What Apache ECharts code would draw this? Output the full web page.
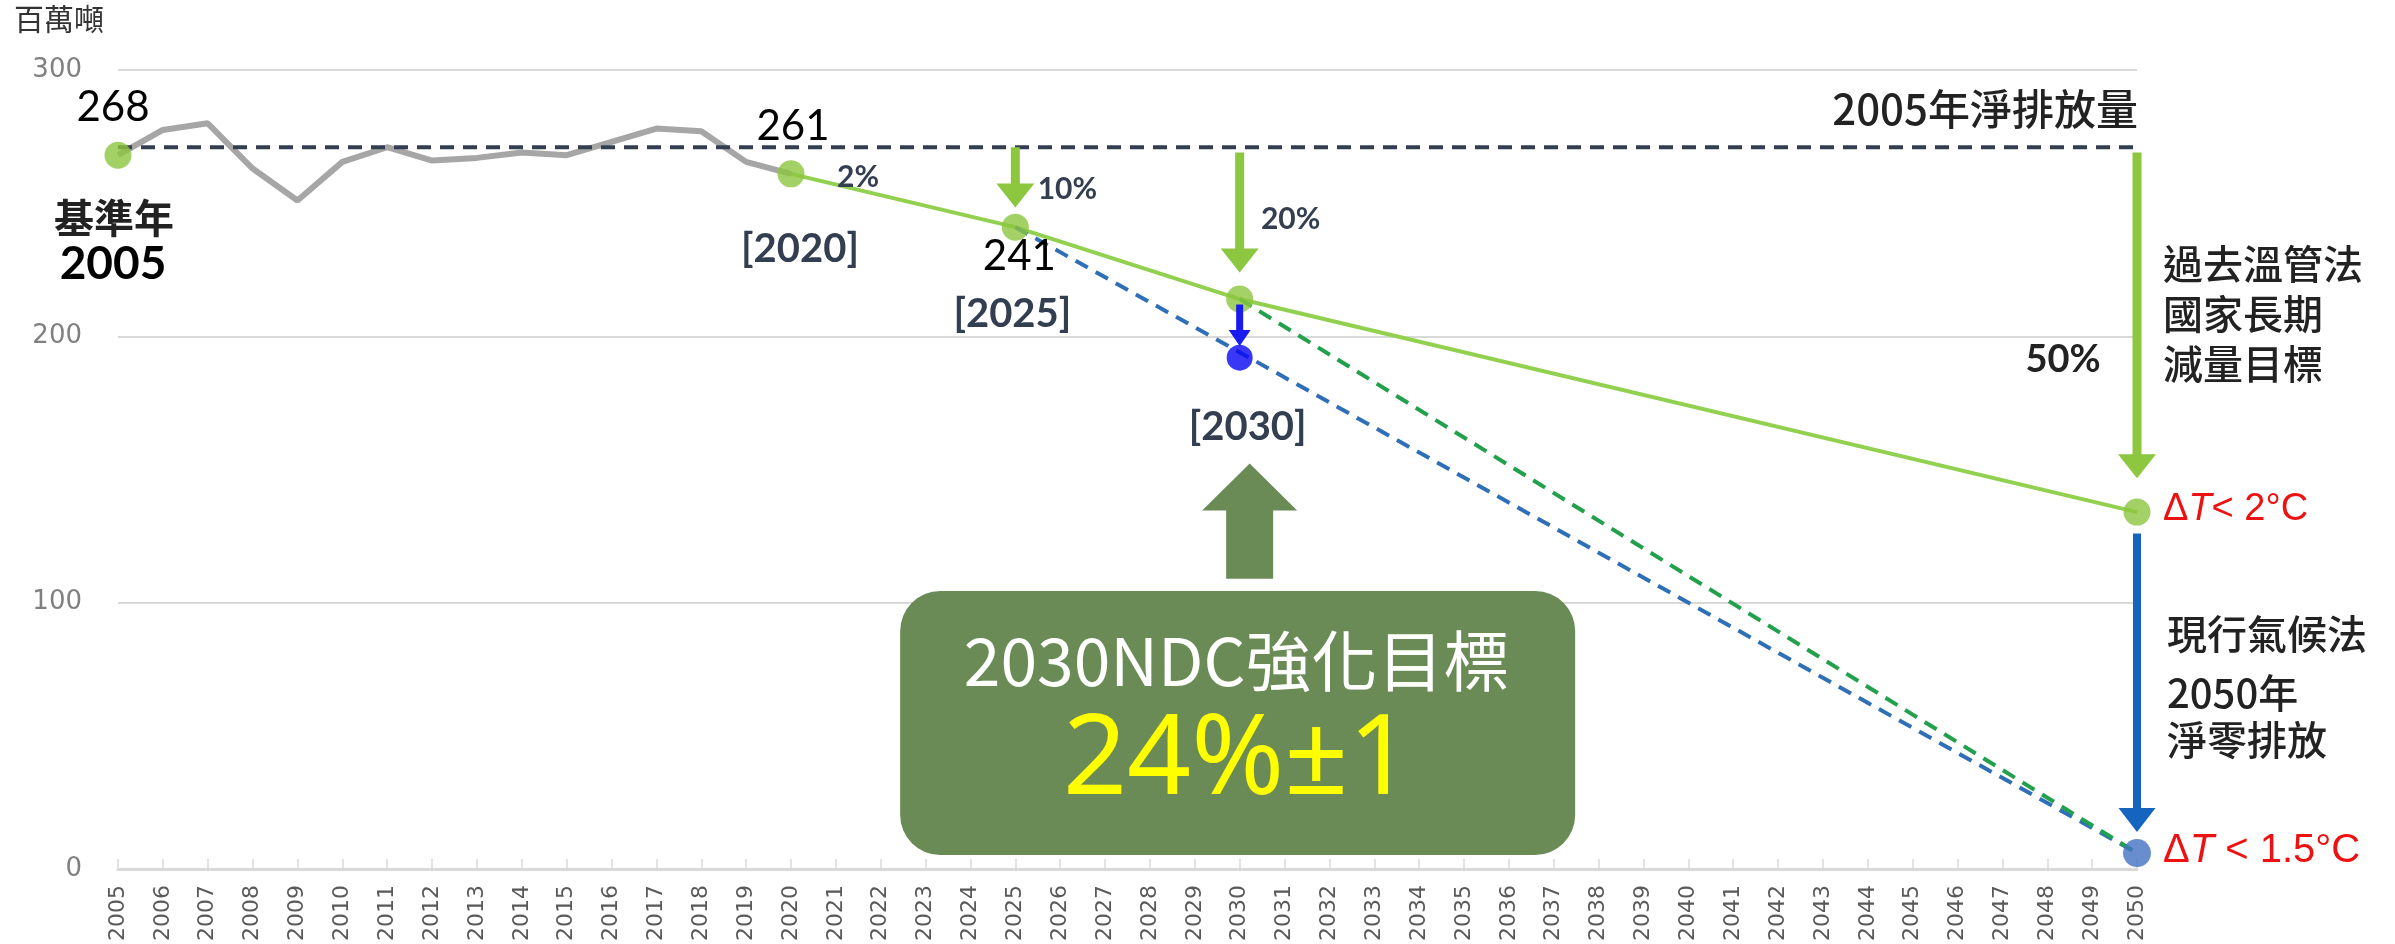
<!DOCTYPE html>
<html>
<head>
<meta charset="utf-8">
<script src="https://cdn.jsdelivr.net/npm/echarts@6.0.0/dist/echarts.min.js"></script>
<style>
  html, body { margin: 0; padding: 0; background: #fff; }
  #main { width: 2395px; height: 944px; }
</style>
</head>
<body>
<div id="main"></div>
<script>
// 年份（x 軸）
const years = ['2005', '2006', '2007', '2008', '2009', '2010', '2011', '2012', '2013', '2014', '2015',
  '2016', '2017', '2018', '2019', '2020', '2021', '2022', '2023', '2024', '2025', '2026', '2027',
  '2028', '2029', '2030', '2031', '2032', '2033', '2034', '2035', '2036', '2037', '2038', '2039',
  '2040', '2041', '2042', '2043', '2044', '2045', '2046', '2047', '2048', '2049', '2050']
const yTicks = [0, 100, 200, 300]

// 歷年淨排放量（灰線）
const histYears = ['2005', '2006', '2007', '2008', '2009', '2010', '2011', '2012', '2013', '2014',
  '2015', '2016', '2017', '2018', '2019', '2020']
const histValues = [268, 277.5, 280, 263, 251, 265.5, 271, 266, 267, 269, 268, 273, 278, 277, 265.5, 261]

// 2005 年淨排放量 虛線
const baseLine = [['2005', 271], ['2050', 271]]
// 過去溫管法 路徑（綠實線）
const targetPath = [['2020', 261], ['2025', 241], ['2030', 214], ['2050', 134]]
// 淨零 路徑（藍虛線、綠虛線）
const netZeroPath = [['2025', 241], ['2050', 6]]
const enhancedPath = [['2030', 214], ['2050', 6]]
// 點
const greenPoints = [['2005', 268], ['2020', 261], ['2025', 241], ['2030', 214], ['2050', 134]]
const ndcPoint = [['2030', 192]]
const netZeroPoint = [['2050', 6]]
// 箭頭 [年, 起, 迄]
const cutArrows = [['2025', 271, 248.4], ['2030', 269, 224], ['2050', 269, 146.7]]
const ndcArrow = [['2030', 212, 196.4]]
const netZeroArrow = [['2050', 126, 13.9]]
const boxArrow = [['2030', 109, 152.3]]

const numFont = 'Lato, "Noto Sans", sans-serif'
const cjkFont = '"Noto Sans CJK TC", "Noto Sans CJK SC", sans-serif'
const latFont = '"Liberation Sans", Arial, sans-serif'
const slate = '#333f50'
const red = '#ee1111'

// 箭頭（custom series）
function arrowSeries (name, data, color, shaft, headW, headL, dx) {
  return {
    name: name,
    type: 'custom',
    silent: true,
    z: 6,
    renderItem: function (params, api) {
      const p0 = api.coord([api.value(0), api.value(1)])
      const p1 = api.coord([api.value(0), api.value(2)])
      const x = p0[0] + dx
      const dir = p1[1] > p0[1] ? 1 : -1
      const yh = p1[1] - dir * headL
      return {
        type: 'polygon',
        shape: {
          points: [
            [x - shaft / 2, p0[1]], [x + shaft / 2, p0[1]], [x + shaft / 2, yh],
            [x + headW / 2, yh], [x, p1[1]], [x - headW / 2, yh], [x - shaft / 2, yh]
          ]
        },
        style: { fill: color }
      }
    },
    data: data
  }
}

const chart = echarts.init(document.getElementById('main'))
chart.setOption({
  animation: false,
  grid: { left: 118, right: 258, top: 70, bottom: 72 },
  xAxis: {
    type: 'category',
    data: years,
    boundaryGap: false,
    axisLine: { lineStyle: { color: '#d9d9d9', width: 3 } },
    axisTick: { show: true, inside: true, length: 10, interval: 0, lineStyle: { color: '#d9d9d9', width: 1.5 } },
    axisLabel: { interval: 0, rotate: 90, margin: 16, fontSize: 22, color: '#595959', fontFamily: '"DejaVu Sans", sans-serif' },
    splitLine: { show: false }
  },
  yAxis: {
    type: 'value',
    min: yTicks[0],
    max: yTicks[yTicks.length - 1],
    interval: 100,
    axisLine: { show: false },
    axisTick: { show: false },
    axisLabel: { margin: 36, fontSize: 26, color: '#808080', fontFamily: '"DejaVu Sans", sans-serif' },
    splitLine: { lineStyle: { color: '#d9d9d9', width: 2 } }
  },
  series: [
    {
      name: '歷年',
      type: 'line',
      data: histYears.map((y, i) => [y, histValues[i]]),
      showSymbol: false,
      lineStyle: { color: '#a6a6a6', width: 6 },
      z: 2
    },
    {
      name: '2005年淨排放量',
      type: 'line',
      data: baseLine,
      showSymbol: false,
      lineStyle: { color: slate, width: 4, type: [14, 9] },
      z: 3
    },
    {
      name: '過去溫管法',
      type: 'line',
      data: targetPath,
      showSymbol: false,
      lineStyle: { color: '#92d050', width: 4 },
      z: 3
    },
    {
      name: '淨零',
      type: 'line',
      data: netZeroPath,
      showSymbol: false,
      lineStyle: { color: '#2e6fb8', width: 4, type: [14, 9] },
      z: 3
    },
    {
      name: '強化',
      type: 'line',
      data: enhancedPath,
      showSymbol: false,
      lineStyle: { color: '#22a04b', width: 4, type: [14, 9] },
      z: 3
    },
    arrowSeries('減量', cutArrows, '#8dc63f', 9, 38, 24, 0),
    arrowSeries('NDC', ndcArrow, '#1a1aee', 7, 22, 16, 0),
    arrowSeries('淨零箭頭', netZeroArrow, '#1565c0', 8, 37, 24, 0),
    arrowSeries('強化箭頭', boxArrow, '#6a8b55', 47, 95, 47, 10),
    {
      name: '綠點',
      type: 'scatter',
      data: greenPoints,
      symbolSize: 27,
      itemStyle: { color: '#8dc63f' },
      z: 5
    },
    {
      name: 'NDC點',
      type: 'scatter',
      data: ndcPoint,
      symbolSize: 26,
      itemStyle: { color: '#0606f2' },
      z: 7
    },
    {
      name: '淨零點',
      type: 'scatter',
      data: netZeroPoint,
      symbolSize: 28,
      itemStyle: { color: '#4472c4' },
      z: 7
    }
  ]
})

// 註解文字
const notes = [
  { at: ['2005', 268], dx: -5, dy: -48, text: '268', size: 42, color: '#000', weight: 'normal', font: numFont },
  { at: ['2005', 268], dx: -4, dy: 63, text: '基準年', size: 40, color: '#222', weight: 'bold', font: cjkFont },
  { at: ['2005', 268], dx: -5, dy: 109, text: '2005', size: 46, color: '#000', weight: 'bold', font: numFont },
  { at: ['2020', 261], dx: 2, dy: -47, text: '261', size: 42, color: '#000', weight: 'normal', font: numFont },
  { at: ['2020', 261], dx: 67, dy: 3, text: '2%', size: 30, color: slate, weight: 'bold', font: numFont },
  { at: ['2020', 261], dx: 9, dy: 75, text: '[2020]', size: 40, color: slate, weight: 'bold', font: numFont },
  { at: ['2025', 241], dx: 52, dy: -38, text: '10%', size: 30, color: slate, weight: 'bold', font: numFont },
  { at: ['2025', 241], dx: 4, dy: 29, text: '241', size: 42, color: '#000', weight: 'normal', font: numFont },
  { at: ['2025', 241], dx: -3, dy: 87, text: '[2025]', size: 40, color: slate, weight: 'bold', font: numFont },
  { at: ['2030', 214], dx: 51, dy: -80, text: '20%', size: 30, color: slate, weight: 'bold', font: numFont },
  { at: ['2030', 192], dx: 8, dy: 69, text: '[2030]', size: 40, color: slate, weight: 'bold', font: numFont },
  { at: ['2050', 271], dx: 1, dy: -38, text: '2005年淨排放量', size: 42, color: '#222', weight: 500, font: cjkFont, align: 'right' },
  { at: ['2050', 134], dx: -74, dy: -152, text: '50%', size: 38, color: '#222', weight: 'bold', font: numFont },
  { at: ['2050', 134], dx: 26, dy: -198, text: '過去溫管法\n國家長期\n減量目標', size: 40, color: '#222', weight: 500, font: cjkFont, align: 'left', lh: 50 },
  { at: ['2050', 6], dx: 30, dy: -219, text: '現行氣候法', size: 40, color: '#222', weight: 500, font: cjkFont, align: 'left' },
  { at: ['2050', 6], dx: 30, dy: -160, text: '2050年', size: 40, color: '#222', weight: 500, font: cjkFont, align: 'left' },
  { at: ['2050', 6], dx: 30, dy: -113, text: '淨零排放', size: 40, color: '#222', weight: 500, font: cjkFont, align: 'left' },
  { at: ['2030', 0], dx: -3, dy: -208, text: '2030NDC強化目標', size: 66, color: '#fff', weight: 'normal', font: cjkFont, z: 12 },
  { at: ['2030', 0], dx: -2, dy: -107, text: '24%±1', size: 112, color: '#ffff00', weight: 'normal', font: '"Noto Sans", sans-serif', z: 12 }
]

function px (pt) {
  return chart.convertToPixel({ gridIndex: 0 }, [years.indexOf(pt[0]), pt[1]])
}

const graphics = [
  {
    type: 'text', left: 14, top: 4, z: 10,
    style: { text: '百萬噸', fontSize: 30, fill: '#333', fontFamily: cjkFont }
  }
]

const boxBase = px(['2030', 0])
graphics.push({
  type: 'rect', z: 11,
  shape: { x: boxBase[0] - 339.5, y: boxBase[1] - 278, width: 675, height: 264, r: 40 },
  style: { fill: '#6a8b55' }
})

notes.forEach(n => {
  const p = px(n.at)
  graphics.push({
    type: 'text',
    x: p[0] + n.dx,
    y: p[1] + n.dy,
    z: n.z || 10,
    style: {
      text: n.text,
      fill: n.color,
      fontSize: n.size,
      fontWeight: n.weight,
      fontFamily: n.font,
      align: n.align || 'center',
      verticalAlign: 'middle',
      lineHeight: n.lh || n.size * 1.2
    }
  })
})

// ΔT 標示
const dtStyle = (size, italic) => ({ fontSize: size, fill: red, fontFamily: latFont, fontStyle: italic ? 'italic' : 'normal' })
const dt2 = px(['2050', 134])
graphics.push({
  type: 'text', x: dt2[0] + 26, y: dt2[1] - 3, z: 10,
  style: {
    text: '{n|Δ}{i|T}{n|< 2°C}', align: 'left', verticalAlign: 'middle',
    rich: { n: dtStyle(38, false), i: dtStyle(38, true) }
  }
})
const dt15 = px(['2050', 6])
graphics.push({
  type: 'text', x: dt15[0] + 26, y: dt15[1] - 2, z: 10,
  style: {
    text: '{n|Δ}{i|T}{n| < 1.5°C}', align: 'left', verticalAlign: 'middle',
    rich: { n: dtStyle(40, false), i: dtStyle(40, true) }
  }
})

chart.setOption({ graphic: graphics })
</script>
</body>
</html>
